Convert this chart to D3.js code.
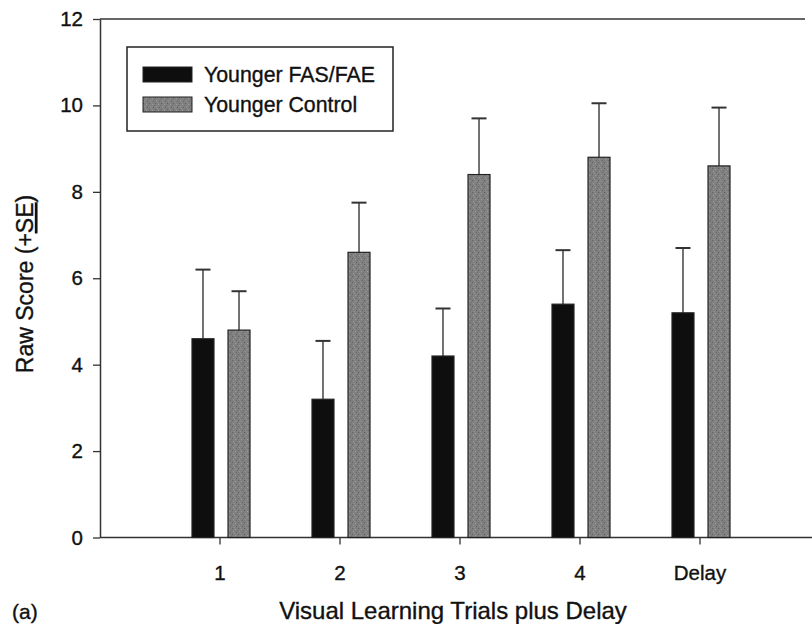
<!DOCTYPE html>
<html>
<head>
<meta charset="utf-8">
<script src="https://cdn.jsdelivr.net/npm/d3@7"></script>
<style>
  body { margin: 0; background: #fff; }
  text { font-family: "Liberation Sans", Arial, sans-serif; fill: #111; stroke: #111; stroke-width: 0.35px; }
</style>
</head>
<body>
<div id="chart"></div>
<script>
const categories = ['1', '2', '3', '4', 'Delay'];
const series = ['Younger FAS/FAE', 'Younger Control'];
const fasMean = [4.6, 3.2, 4.2, 5.4, 5.2];
const fasSE = [1.6, 1.35, 1.1, 1.25, 1.5];
const ctrlMean = [4.8, 6.6, 8.4, 8.8, 8.6];
const ctrlSE = [0.9, 1.15, 1.3, 1.25, 1.35];
const yTicks = [0, 2, 4, 6, 8, 10, 12];

const width = 812;
const height = 624;

const svg = d3.select('#chart')
  .append('svg')
  .attr('width', width)
  .attr('height', height);

// speckled grey fill like the scanned print
const defs = svg.append('defs');
const pat = defs.append('pattern')
  .attr('id', 'stipple')
  .attr('patternUnits', 'userSpaceOnUse')
  .attr('width', 6).attr('height', 6);
pat.append('rect').attr('width', 6).attr('height', 6).attr('fill', '#808080');
[[0, 0, '#5e5e5e'], [3, 1, '#9c9c9c'], [1, 3, '#969696'], [4, 4, '#646464'], [5, 2, '#6c6c6c'], [2, 5, '#929292']]
  .forEach(([px, py, c]) => pat.append('rect').attr('x', px).attr('y', py).attr('width', 1).attr('height', 1).attr('fill', c));

const y = d3.scaleLinear()
  .domain([0, 12])
  .range([537.5, 19]);

const x = d3.scaleBand()
  .domain(categories)
  .range([160, 760])
  .padding(0);

const xs = d3.scaleBand()
  .domain(series)
  .range([32, 90])
  .paddingInner(0.39);

const rows = categories.map((c, i) => ({
  cat: c,
  vals: [
    { s: series[0], mean: fasMean[i], se: fasSE[i] },
    { s: series[1], mean: ctrlMean[i], se: ctrlSE[i] }
  ]
}));

const fills = { 'Younger FAS/FAE': '#0e0e0e', 'Younger Control': 'url(#stipple)' };

// frame lines
svg.append('line')
  .attr('x1', 100).attr('x2', 805).attr('y1', y(12)).attr('y2', y(12))
  .attr('stroke', '#333').attr('stroke-width', 1.5);
svg.append('line')
  .attr('x1', 100).attr('x2', 812).attr('y1', y(0)).attr('y2', y(0))
  .attr('stroke', '#333').attr('stroke-width', 1.5);

// error bars (behind bars)
const groups = svg.append('g')
  .selectAll('g')
  .data(rows)
  .join('g')
  .attr('transform', d => `translate(${x(d.cat)},0)`);

groups.selectAll('g.err')
  .data(d => d.vals)
  .join('g')
  .attr('class', 'err')
  .each(function(d) {
    const cx = xs(d.s) + xs.bandwidth() / 2;
    const g = d3.select(this);
    g.append('line')
      .attr('x1', cx).attr('x2', cx)
      .attr('y1', y(d.mean)).attr('y2', y(d.mean + d.se))
      .attr('stroke', '#444').attr('stroke-width', 1.5);
    g.append('line')
      .attr('x1', cx - 7.5).attr('x2', cx + 7.5)
      .attr('y1', y(d.mean + d.se)).attr('y2', y(d.mean + d.se))
      .attr('stroke', '#333').attr('stroke-width', 2);
  });

groups.selectAll('rect')
  .data(d => d.vals)
  .join('rect')
  .attr('x', d => xs(d.s))
  .attr('y', d => y(d.mean))
  .attr('width', xs.bandwidth())
  .attr('height', d => y(0) - y(d.mean))
  .attr('fill', d => fills[d.s])
  .attr('stroke', '#222')
  .attr('stroke-width', 1.2);

// axes
const yAxis = svg.append('g')
  .attr('transform', 'translate(100,0)')
  .call(d3.axisLeft(y).tickValues(yTicks).tickSize(7).tickPadding(10).tickSizeOuter(0));
yAxis.select('.domain').attr('stroke', '#333').attr('stroke-width', 1.5);
yAxis.selectAll('.tick line').attr('stroke', '#333').attr('stroke-width', 1.3);
yAxis.selectAll('text').attr('font-size', 20.5).attr('font-family', '"Liberation Sans", Arial, sans-serif').attr('fill', '#111');

const xAxis = svg.append('g')
  .attr('transform', `translate(0,${y(0)})`)
  .call(d3.axisBottom(x).tickSize(7).tickPadding(21).tickSizeOuter(0));
xAxis.select('.domain').remove();
xAxis.selectAll('.tick line').attr('stroke', '#333').attr('stroke-width', 1.3);
xAxis.selectAll('text').attr('font-size', 20.5).attr('font-family', '"Liberation Sans", Arial, sans-serif').attr('fill', '#111');

// axis titles
svg.append('text')
  .attr('x', 453).attr('y', 619)
  .attr('text-anchor', 'middle')
  .attr('font-size', 24)
  .text('Visual Learning Trials plus Delay');

const yt = svg.append('text')
  .attr('transform', 'translate(33,284) rotate(-90)')
  .attr('text-anchor', 'middle')
  .attr('font-size', 23);
yt.append('tspan').text('Raw Score (+');
yt.append('tspan').attr('text-decoration', 'underline').text('SE');
yt.append('tspan').text(')');

svg.append('text')
  .attr('x', 12).attr('y', 619)
  .attr('font-size', 21)
  .text('(a)');

// legend
const legend = svg.append('g');
legend.append('rect')
  .attr('x', 127).attr('y', 47).attr('width', 266).attr('height', 84)
  .attr('fill', '#fff').attr('stroke', '#222').attr('stroke-width', 1.5);
const items = legend.selectAll('g')
  .data(series)
  .join('g')
  .attr('transform', (d, i) => `translate(143,${67 + i * 30})`);
items.append('rect')
  .attr('width', 49).attr('height', 15)
  .attr('fill', d => fills[d])
  .attr('stroke', '#222').attr('stroke-width', 1);
items.append('text')
  .attr('x', 61).attr('y', 15)
  .attr('font-size', 21.3)
  .text(d => d);
</script>
</body>
</html>
